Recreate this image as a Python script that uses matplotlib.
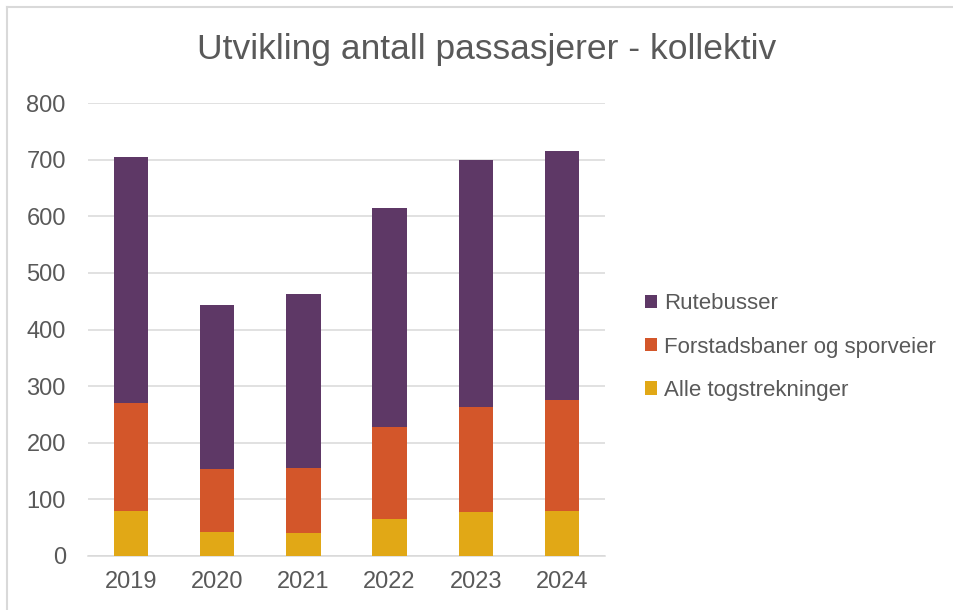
import numpy as np
import matplotlib
matplotlib.use('Agg')
import matplotlib.pyplot as plt
from matplotlib.lines import Line2D
from matplotlib.patches import Patch

# Data (lest av fra figuren)
years = ['2019', '2020', '2021', '2022', '2023', '2024']
tog = [79, 42, 40, 65, 77, 80]
forstad = [192, 111, 115, 162, 186, 195]
buss = [434, 290, 307, 387, 437, 441]
labels = ['Alle togstrekninger', 'Forstadsbaner og sporveier', 'Rutebusser']
colors = ['#E1A816', '#D3562A', '#5E3866']
yticks = [0, 100, 200, 300, 400, 500, 600, 700, 800]

text_color = '#595959'
plt.rcParams['font.family'] = ['Liberation Sans', 'DejaVu Sans']

fig = plt.figure(figsize=(9.54, 6.1), dpi=100)
ax = fig.add_axes([88 / 954, 1 - 556 / 610, (605 - 88) / 954, (556 - 103) / 610])

x = np.arange(len(years))
bottom = np.zeros(len(years))
for vals, lab, col in zip([tog, forstad, buss], labels, colors):
    ax.bar(x, vals, width=0.4, bottom=bottom, color=col, label=lab, zorder=3)
    bottom += np.array(vals)

ax.set_xlim(-0.5, len(years) - 0.5)
ax.set_ylim(0, 800)
ax.set_yticks(yticks)
ax.set_xticks(x)
ax.set_xticklabels(years)
ax.grid(axis='y', color='#D9D9D9', linewidth=1.1, zorder=0)
for s in ['top', 'right', 'left']:
    ax.spines[s].set_visible(False)
ax.spines['bottom'].set_color('#D9D9D9')
ax.spines['bottom'].set_linewidth(1.1)
ax.tick_params(axis='both', length=0, labelsize=17, colors=text_color)
ax.tick_params(axis='y', pad=16)
ax.tick_params(axis='x', pad=11)

fig.text(487 / 954, 1 - 50 / 610, 'Utvikling antall passasjerer - kollektiv',
         ha='center', va='center', fontsize=25.5, color=text_color)

# Legend i omvendt rekkefølge
handles = [Patch(facecolor=c) for c in colors[::-1]]
fig.legend(handles, labels[::-1], loc='center left',
           bbox_to_anchor=(645 / 954, 1 - 347 / 610), frameon=False,
           fontsize=16, labelcolor=text_color, handlelength=0.55, handleheight=0.55,
           handletextpad=0.3, labelspacing=1.0, borderpad=0, borderaxespad=0)

# Ramme rundt diagramområdet
fig.add_artist(Line2D([7 / 954, 7 / 954], [0, 1 - 7 / 610], color='#D9D9D9', lw=1.5))
fig.add_artist(Line2D([7 / 954, 1], [1 - 7 / 610, 1 - 7 / 610], color='#D9D9D9', lw=1.5))

fig.savefig('out.png', dpi=100)
